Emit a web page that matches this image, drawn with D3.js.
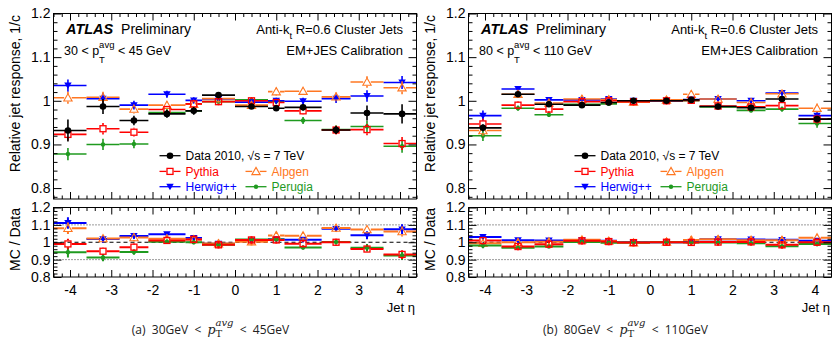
<!DOCTYPE html>
<html>
<head>
<meta charset="utf-8">
<script src="https://cdn.jsdelivr.net/npm/d3@7"></script>
<style>
  body { margin: 0; background: #fff; }
  svg { display: block; font-family: "Liberation Sans", Arial, Helvetica, sans-serif; }
  text { white-space: pre; }
</style>
</head>
<body>
<svg id="chart" width="832" height="340"></svg>
<script>
// eta bin edges and axis ticks
const etaEdges = [-4.5, -3.6, -2.8, -2.1, -1.2, -0.8, 0, 0.8, 1.2, 2.1, 2.8, 3.6, 4.5];
const etaTicks = [-4, -3, -2, -1, 0, 1, 2, 3, 4];
const responseTicks = [0.8, 0.9, 1, 1.1, 1.2];
const ratioTicks = [0.8, 0.9, 1, 1.1, 1.2];

// 30 < pT avg < 45 GeV
const data30    = [0.932, 0.987, 0.955, 0.970, 0.977, 1.013, 0.987, 0.983, 0.985, 0.933, 0.972, 0.970];
const dataErr30 = [0.025, 0.017, 0.011, 0.009, 0.009, 0.005, 0.005, 0.006, 0.007, 0.009, 0.017, 0.022];
const pythia30  = [0.923, 0.936, 0.928, 0.980, 0.993, 0.998, 1.000, 0.996, 0.977, 0.933, 0.934, 0.902];
const alpgen30  = [1.007, 1.008, 0.981, 0.990, 0.992, 1.005, 0.990, 1.021, 1.022, 1.009, 1.043, 1.030];
const herwig30  = [1.035, 1.005, 0.990, 1.015, 1.001, 1.004, 0.997, 1.000, 0.999, 1.005, 1.011, 1.042];
const perugia30 = [0.878, 0.900, 0.901, 0.973, 0.977, 0.998, 1.002, 0.999, 0.955, 0.934, 0.941, 0.896];
const mcErr30   = [0.014, 0.013, 0.010, 0.008, 0.007, 0.004, 0.004, 0.007, 0.008, 0.010, 0.013, 0.015];

// 80 < pT avg < 110 GeV
const data80    = [0.938, 1.015, 0.992, 0.990, 0.996, 1.000, 1.000, 1.002, 0.987, 0.984, 1.004, 0.958];
const dataErr80 = [0.008, 0.005, 0.004, 0.003, 0.003, 0.002, 0.002, 0.003, 0.003, 0.003, 0.004, 0.006];
const pythia80  = [0.947, 0.990, 0.981, 0.998, 1.000, 0.998, 1.000, 1.001, 0.988, 0.986, 0.989, 0.958];
const alpgen80  = [0.932, 1.015, 0.995, 1.004, 1.003, 0.997, 1.002, 1.015, 1.004, 0.996, 1.016, 0.983];
const herwig80  = [0.966, 1.027, 1.002, 1.002, 1.004, 1.000, 1.000, 1.003, 1.004, 1.000, 1.018, 0.966];
const perugia80 = [0.920, 0.983, 0.968, 0.992, 0.993, 0.999, 1.000, 1.000, 0.986, 0.978, 0.981, 0.948];
const mcErr80   = [0.012, 0.006, 0.005, 0.004, 0.004, 0.003, 0.003, 0.005, 0.005, 0.005, 0.006, 0.010];

const styles = {
	data:    { color: "#000000", marker: "circle",  label: "Data 2010, \u221As = 7 TeV" },
	pythia:  { color: "#ff0000", marker: "square",  label: "Pythia" },
	alpgen:  { color: "#ff7722", marker: "triUp",   label: "Alpgen" },
	herwig:  { color: "#0000ff", marker: "triDown", label: "Herwig++" },
	perugia: { color: "#1f9a1f", marker: "dot",     label: "Perugia" }
};

const panels = [
	{ offset: 0, tag: "(a)", lo: "30", hi: "45", data: data30, dataErr: dataErr30, mcErr: mcErr30,
	  mc: { perugia: perugia30, herwig: herwig30, alpgen: alpgen30, pythia: pythia30 } },
	{ offset: 415, tag: "(b)", lo: "80", hi: "110", data: data80, dataErr: dataErr80, mcErr: mcErr80,
	  mc: { perugia: perugia80, herwig: herwig80, alpgen: alpgen80, pythia: pythia80 } }
];

const svg = d3.select("#chart");

// shared scales (each panel is translated by its offset)
const x = d3.scaleLinear().domain([-4.4, 4.4]).range([53.5, 416.5]);
const yTop = d3.scaleLinear().domain([0.775, 1.2]).range([199, 13.5]);
const yRat = d3.scaleLinear().domain([0.8, 1.2]).range([277, 207.5]);

// draw text made of pieces, with optional stacked sub/superscripts
function rich(g, px, py, pieces, anchor, base) {
	const grp = g.append("g");
	let cx = 0;
	const styleText = (t, p) => t
		.style("font-size", (p.size || base.size) + "px")
		.style("font-family", p.family || base.family || null)
		.style("font-style", p.italic ? "italic" : "normal")
		.style("font-weight", p.bold ? "bold" : "normal")
		.attr("fill", p.fill || base.fill || "#000");
	pieces.forEach(p => {
		if (p.sub !== undefined) {
			const a = styleText(grp.append("text").attr("x", cx).attr("y", p.subDy).text(p.sub), p);
			let w = a.node().getComputedTextLength();
			if (p.sup !== undefined) {
				const b = styleText(grp.append("text").attr("x", cx).attr("y", p.supDy).text(p.sup), p.supStyle || p);
				w = Math.max(w, b.node().getComputedTextLength());
			}
			cx += w;
		} else {
			const t = styleText(grp.append("text").attr("x", cx).attr("y", p.dy || 0).text(p.t), p);
			cx += t.node().getComputedTextLength();
		}
	});
	const shift = anchor === "end" ? -cx : anchor === "middle" ? -cx / 2 : 0;
	grp.attr("transform", `translate(${px + shift},${py})`);
}

function drawMarker(g, type, cx, cy, color) {
	if (type === "circle") {
		g.append("circle").attr("cx", cx).attr("cy", cy).attr("r", 3.3).attr("fill", color);
	} else if (type === "dot") {
		g.append("circle").attr("cx", cx).attr("cy", cy).attr("r", 2.2).attr("fill", color);
	} else if (type === "square") {
		g.append("rect").attr("x", cx - 3).attr("y", cy - 3).attr("width", 6).attr("height", 6)
			.attr("fill", "none").attr("stroke", color).attr("stroke-width", 1.3);
	} else if (type === "triUp") {
		g.append("path").attr("d", d3.symbol(d3.symbolTriangle, 30)())
			.attr("transform", `translate(${cx},${cy + 0.8})`)
			.attr("fill", "none").attr("stroke", color).attr("stroke-width", 1.1);
	} else if (type === "triDown") {
		g.append("path").attr("d", d3.symbol(d3.symbolTriangle, 24)())
			.attr("transform", `translate(${cx},${cy - 0.8}) rotate(180)`)
			.attr("fill", color);
	}
}

const markerGap = { square: 3.6, triUp: 3.8, circle: 0, dot: 0, triDown: 0 };

// one point with bin-width bar and vertical error bar
function drawPoint(g, y, i, v, e, st, lw) {
	const x0 = x(Math.max(etaEdges[i], -4.4)), x1 = x(Math.min(etaEdges[i + 1], 4.4));
	const cx = x((etaEdges[i] + etaEdges[i + 1]) / 2), cy = y(v);
	const gap = markerGap[st.marker];
	const seg = (a, b, c, d) => g.append("line").attr("x1", a).attr("y1", b).attr("x2", c).attr("y2", d)
		.attr("stroke", st.color).attr("stroke-width", lw);
	seg(x0, cy, cx - gap, cy);
	seg(cx + gap, cy, x1, cy);
	seg(cx, y(v + e), cx, cy - gap);
	seg(cx, cy + gap, cx, y(v - e));
	drawMarker(g, st.marker, cx, cy, st.color);
}

function drawAxes(g, y, yTicks, yMinorStep, y0, y1, labelsX, xLen, yLen) {
	const majorX = etaTicks;
	const minorX = d3.range(-44, 45, 2).map(v => v / 10).filter(v => Math.abs(v - Math.round(v)) > 1e-6);
	const minorY = d3.range(Math.round(y.domain()[0] / yMinorStep), Math.round(y.domain()[1] / yMinorStep) + 1)
		.map(k => +(k * yMinorStep).toFixed(3))
		.filter(v => !yTicks.some(t => Math.abs(t - v) < 1e-6) && v >= y.domain()[0]);
	const strip = s => s.call(a => a.select(".domain").remove());

	g.append("g").attr("transform", `translate(0,${y0})`)
		.call(d3.axisBottom(x).tickValues(majorX).tickSize(-xLen).tickPadding(8.5)
			.tickFormat(d => labelsX ? String(d) : ""))
		.call(strip)
		.call(a => a.selectAll("text").style("font-size", "14px").attr("fill", "#000"));
	g.append("g").attr("transform", `translate(0,${y0})`)
		.call(d3.axisBottom(x).tickValues(minorX).tickSize(-xLen / 2).tickFormat("")).call(strip);
	g.append("g").attr("transform", `translate(0,${y1})`)
		.call(d3.axisTop(x).tickValues(majorX).tickSize(-xLen).tickFormat("")).call(strip);
	g.append("g").attr("transform", `translate(0,${y1})`)
		.call(d3.axisTop(x).tickValues(minorX).tickSize(-xLen / 2).tickFormat("")).call(strip);

	g.append("g").attr("transform", `translate(${x.range()[0]},0)`)
		.call(d3.axisLeft(y).tickValues(yTicks).tickSize(-yLen).tickPadding(3)
			.tickFormat(d => String(+d.toFixed(1))))
		.call(strip)
		.call(a => a.selectAll("text").style("font-size", "14px").attr("fill", "#000"));
	g.append("g").attr("transform", `translate(${x.range()[0]},0)`)
		.call(d3.axisLeft(y).tickValues(minorY).tickSize(-yLen / 2).tickFormat("")).call(strip);
	g.append("g").attr("transform", `translate(${x.range()[1]},0)`)
		.call(d3.axisRight(y).tickValues(yTicks).tickSize(-yLen).tickFormat("")).call(strip);
	g.append("g").attr("transform", `translate(${x.range()[1]},0)`)
		.call(d3.axisRight(y).tickValues(minorY).tickSize(-yLen / 2).tickFormat("")).call(strip);

	g.selectAll(".tick line").attr("stroke", "#000").attr("stroke-width", 1);
	g.append("rect").attr("x", x.range()[0]).attr("y", y1)
		.attr("width", x.range()[1] - x.range()[0]).attr("height", y0 - y1)
		.attr("fill", "none").attr("stroke", "#000").attr("stroke-width", 1);
}

panels.forEach((p, k) => {
	const g = svg.append("g").attr("transform", `translate(${p.offset},0)`);
	const defs = g.append("defs");
	defs.append("clipPath").attr("id", "clipTop" + k).append("rect")
		.attr("x", x.range()[0]).attr("y", yTop.range()[1]).attr("width", x.range()[1] - x.range()[0])
		.attr("height", yTop.range()[0] - yTop.range()[1]);
	defs.append("clipPath").attr("id", "clipRat" + k).append("rect")
		.attr("x", x.range()[0]).attr("y", yRat.range()[1]).attr("width", x.range()[1] - x.range()[0])
		.attr("height", yRat.range()[0] - yRat.range()[1]);

	// top: response
	const top = g.append("g").attr("clip-path", `url(#clipTop${k})`);
	Object.keys(p.mc).forEach(key => {
		p.mc[key].forEach((v, i) => drawPoint(top, yTop, i, v, p.mcErr[i], styles[key], 1.6));
	});
	p.data.forEach((v, i) => drawPoint(top, yTop, i, v, p.dataErr[i], styles.data, 1.6));

	// bottom: MC / Data
	const rat = g.append("g").attr("clip-path", `url(#clipRat${k})`);
	[0.9, 1.1].forEach(v => rat.append("line").attr("x1", x.range()[0]).attr("x2", x.range()[1])
		.attr("y1", yRat(v)).attr("y2", yRat(v)).attr("stroke", "#000").attr("stroke-width", 0.8)
		.attr("stroke-dasharray", "1,2"));
	rat.append("line").attr("x1", x.range()[0]).attr("x2", x.range()[1])
		.attr("y1", yRat(1)).attr("y2", yRat(1)).attr("stroke", "#000").attr("stroke-width", 1.2)
		.attr("stroke-dasharray", "4,3");
	["herwig", "alpgen", "perugia", "pythia"].forEach(key => {
		p.mc[key].forEach((v, i) => {
			const r = v / p.data[i];
			const e = r * Math.hypot(p.mcErr[i] / v, p.dataErr[i] / p.data[i]);
			drawPoint(rat, yRat, i, r, e, styles[key], 2);
		});
	});

	drawAxes(g, yTop, responseTicks, 0.02, yTop.range()[0], yTop.range()[1], false, 7, 8);
	drawAxes(g, yRat, ratioTicks, 0.02, yRat.range()[0], yRat.range()[1], true, 7, 8);

	// axis titles
	g.append("text").attr("transform", "translate(20,15) rotate(-90)").attr("text-anchor", "end")
		.style("font-size", "14px").text("Relative jet response, 1/c");
	g.append("text").attr("transform", "translate(20,208) rotate(-90)").attr("text-anchor", "end")
		.style("font-size", "14px").text("MC / Data");
	g.append("text").attr("x", 415).attr("y", 311.5).attr("text-anchor", "end")
		.style("font-size", "13px").text("Jet \u03B7");

	// labels in the plot
	rich(g, 66, 33.5, [
		{ t: "ATLAS", bold: true, italic: true, size: 14.5 },
		{ t: "  Preliminary", size: 14 }
	], "start", { size: 14 });
	rich(g, 64, 55, [
		{ t: `${p.lo} < p` },
		{ sub: "T", sup: "avg", subDy: 7.5, supDy: -7, size: 9.5 },
		{ t: ` < ${p.hi} GeV` }
	], "start", { size: 12.5 });
	rich(g, 403, 33.5, [
		{ t: "Anti-k" },
		{ sub: "t", subDy: 5, size: 9.5 },
		{ t: " R=0.6 Cluster Jets" }
	], "end", { size: 13 });
	rich(g, 403, 54.5, [{ t: "EM+JES Calibration" }], "end", { size: 13 });

	// legend
	const leg = g.append("g");
	const entries = [
		{ key: "data", cx: 170, cy: 155.7 },
		{ key: "pythia", cx: 170, cy: 171.4 },
		{ key: "alpgen", cx: 256, cy: 171.4 },
		{ key: "herwig", cx: 170, cy: 186.7 },
		{ key: "perugia", cx: 256, cy: 186.7 }
	];
	entries.forEach(en => {
		const st = styles[en.key];
		const gap = markerGap[st.marker];
		leg.append("line").attr("x1", en.cx - 10.5).attr("x2", en.cx - gap).attr("y1", en.cy).attr("y2", en.cy)
			.attr("stroke", st.color).attr("stroke-width", 1.3);
		leg.append("line").attr("x1", en.cx + gap).attr("x2", en.cx + 10.5).attr("y1", en.cy).attr("y2", en.cy)
			.attr("stroke", st.color).attr("stroke-width", 1.3);
		drawMarker(leg, st.marker, en.cx, en.cy, st.color);
		leg.append("text").attr("x", en.cx + 15.5).attr("y", en.cy + 4.3)
			.style("font-size", "12px").attr("fill", st.color).text(st.label);
	});

	// caption
	rich(g, 210.5, 334, [
		{ t: `${p.tag}  ${p.lo}GeV  <  ` },
		{ t: "p", italic: true, family: "DejaVu Serif", size: 12.5 },
		{ sub: "T", sup: "avg", subDy: 2.5, supDy: -8, size: 10, family: "DejaVu Serif",
		  supStyle: { italic: true, family: "DejaVu Serif", size: 10 } },
		{ t: `  <  ${p.hi}GeV` }
	], "middle", { size: 12, family: "Open Sans", fill: "#222" });
});
</script>
</body>
</html>
